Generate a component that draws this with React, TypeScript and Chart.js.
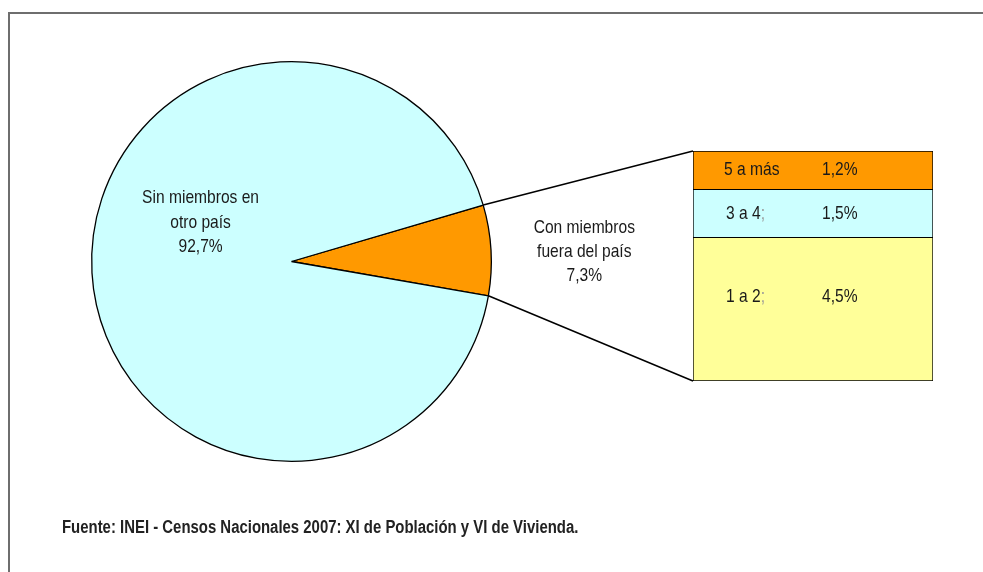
import React, { useEffect, useRef } from 'react';
import { Chart, registerables } from 'chart.js';

Chart.register(...registerables);

// ---- data ----
const pieLabelLines: string[][] = [
  ['Con miembros', 'fuera del país'],
  ['Sin miembros en', 'otro país'],
];
const pieValues = [7.3, 92.7];
const pieColors = ['#FF9900', '#CCFFFF'];

const barLabels = ['1 a 2;', '3 a 4;', '5 a más'];
const barValues = [4.5, 1.5, 1.2];
const barColors = ['#FFFF99', '#CCFFFF', '#FF9900'];

const sourceText = 'Fuente: INEI - Censos Nacionales 2007: XI de Población y VI de Vivienda.';

const FONT = "'Liberation Sans', Arial, sans-serif";
const TEXT_COLOR = '#1a1a1a';
const NARROW = 0.82;

const fmt = (v: number) => v.toFixed(1).replace('.', ',') + '%';

const W = 983;
const H = 572;

function narrowText(ctx: CanvasRenderingContext2D, text: string, x: number, y: number, sx: number = NARROW) {
  ctx.save();
  ctx.translate(x, y);
  ctx.scale(sx, 1);
  ctx.fillText(text, 0, 0);
  ctx.restore();
}

export default function App() {
  const pieRef = useRef<HTMLCanvasElement | null>(null);
  const barRef = useRef<HTMLCanvasElement | null>(null);

  useEffect(() => {
    if (!pieRef.current || !barRef.current) return;

    const pieLabelPlugin = {
      id: 'pieLabels',
      afterDraw(chart: any) {
        const ctx = chart.ctx;
        const meta = chart.getDatasetMeta(0);
        ctx.save();
        ctx.font = `19px ${FONT}`;
        ctx.fillStyle = TEXT_COLOR;
        ctx.textAlign = 'center';
        ctx.textBaseline = 'alphabetic';
        meta.data.forEach((arc: any, i: number) => {
          const { x, y, outerRadius: r } = arc.getProps(['x', 'y', 'outerRadius'], true);
          const lines = [...pieLabelLines[i], fmt(pieValues[i])];
          let lx: number, ly: number;
          if (i === 0) {
            lx = x + 1.465 * r;
            ly = y - 0.058 * r;
          } else {
            lx = x - 0.455 * r;
            ly = y - 0.205 * r;
          }
          const lh = 24.2;
          lines.forEach((t, k) => {
            narrowText(ctx, t, lx, ly + 7 + (k - (lines.length - 1) / 2) * lh);
          });
        });
        ctx.restore();
      },
    };

    const pie = new Chart(pieRef.current, {
      type: 'pie',
      data: {
        labels: pieLabelLines.map((l) => l.join(' ')),
        datasets: [
          {
            data: pieValues,
            backgroundColor: pieColors,
            borderColor: '#000',
            borderWidth: 1.3,
            hoverOffset: 0,
          },
        ],
      },
      options: {
        responsive: false,
        animation: false,
        devicePixelRatio: 1,
        rotation: 73.6,
        layout: { padding: { left: 91, top: 61, right: 491, bottom: 110 } },
        plugins: { legend: { display: false }, tooltip: { enabled: false } },
        events: [],
      },
      plugins: [pieLabelPlugin],
    });

    const total = barValues.reduce((a, b) => a + b, 0);

    const barPlugin = {
      id: 'barExtras',
      afterDraw(chart: any) {
        const ctx = chart.ctx;
        ctx.save();
        // connector lines from pie slice to bar
        const arc: any = pie.getDatasetMeta(0).data[0];
        const topBar: any = chart.getDatasetMeta(barValues.length - 1).data[0];
        const botBar: any = chart.getDatasetMeta(0).data[0];
        if (arc && topBar && botBar) {
          const a = arc.getProps(['x', 'y', 'startAngle', 'endAngle', 'outerRadius'], true);
          const tb = topBar.getProps(['x', 'y', 'width'], true);
          const bb = botBar.getProps(['x', 'base', 'width'], true);
          const p1 = [a.x + a.outerRadius * Math.cos(a.startAngle), a.y + a.outerRadius * Math.sin(a.startAngle)];
          const p2 = [a.x + a.outerRadius * Math.cos(a.endAngle), a.y + a.outerRadius * Math.sin(a.endAngle)];
          ctx.strokeStyle = '#000';
          ctx.lineWidth = 1.5;
          ctx.beginPath();
          ctx.moveTo(p1[0], p1[1]);
          ctx.lineTo(tb.x - tb.width / 2, tb.y);
          ctx.moveTo(p2[0], p2[1]);
          ctx.lineTo(bb.x - bb.width / 2, bb.base);
          ctx.stroke();
        }
        // segment labels
        ctx.font = `19px ${FONT}`;
        ctx.textBaseline = 'middle';
        ctx.textAlign = 'left';
        barValues.forEach((v, i) => {
          const el: any = chart.getDatasetMeta(i).data[0];
          const p = el.getProps(['x', 'y', 'base', 'width'], true);
          const top = Math.min(p.y, p.base);
          const bottom = Math.max(p.y, p.base);
          const cy = Math.min((top + bottom) / 2, top + 60);
          const left = p.x - p.width / 2;
          const label = barLabels[i];
          if (label.endsWith(';')) {
            const tx = left + 33;
            const main = label.slice(0, -1);
            ctx.fillStyle = TEXT_COLOR;
            narrowText(ctx, main, tx, cy);
            const w = ctx.measureText(main).width * NARROW;
            ctx.fillStyle = '#999';
            narrowText(ctx, ';', tx + w, cy);
          } else {
            ctx.fillStyle = TEXT_COLOR;
            narrowText(ctx, label, left + 31, cy);
          }
          ctx.fillStyle = TEXT_COLOR;
          narrowText(ctx, fmt(v), left + 129, cy);
        });
        // source note
        ctx.font = `bold 18px ${FONT}`;
        ctx.textBaseline = 'alphabetic';
        ctx.fillStyle = '#222';
        narrowText(ctx, sourceText, 62, 533, 0.829);
        ctx.restore();
      },
    };

    const bar = new Chart(barRef.current, {
      type: 'bar',
      data: {
        labels: ['Con miembros fuera del país'],
        datasets: barLabels.map((l, i) => ({
          label: l,
          data: [barValues[i]],
          backgroundColor: barColors[i],
          borderColor: '#000',
          borderWidth: i === 0 ? 1 : { top: 1, left: 1, right: 1, bottom: 0 },
          borderSkipped: false,
          barPercentage: 1,
          categoryPercentage: 1,
        })),
      },
      options: {
        responsive: false,
        animation: false,
        devicePixelRatio: 1,
        layout: { padding: { left: 693, top: 151, right: 50, bottom: 191 } },
        scales: {
          x: { stacked: true, display: false },
          y: { stacked: true, display: false, min: 0, max: total },
        },
        plugins: { legend: { display: false }, tooltip: { enabled: false } },
        events: [],
      },
      plugins: [barPlugin],
    });

    return () => {
      bar.destroy();
      pie.destroy();
    };
  }, []);

  return (
    <div
      style={{
        position: 'fixed',
        left: 0,
        top: 0,
        width: W,
        height: H,
        overflow: 'hidden',
        background: '#fff',
      }}
    >
      <div
        style={{
          position: 'absolute',
          left: 8,
          top: 12,
          width: W,
          height: H,
          borderTop: '2px solid #6e6e6e',
          borderLeft: '2px solid #6e6e6e',
        }}
      />
      <canvas ref={pieRef} width={W} height={H} style={{ position: 'absolute', left: 0, top: 0, width: W, height: H }} />
      <canvas ref={barRef} width={W} height={H} style={{ position: 'absolute', left: 0, top: 0, width: W, height: H }} />
    </div>
  );
}
